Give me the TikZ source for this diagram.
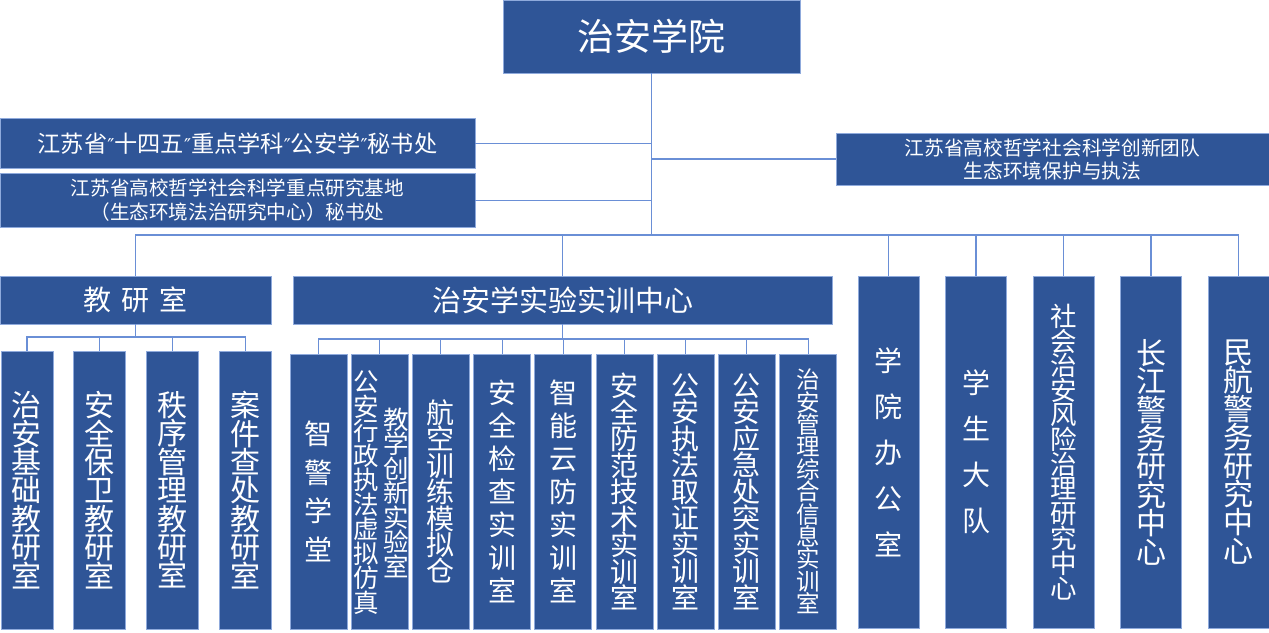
\documentclass[tikz,border=0pt]{standalone}
\usepackage{fontspec}
\setmainfont{Noto Sans CJK SC}
\newfontfamily\primefont{DejaVu Sans}
\usetikzlibrary{calc}

\definecolor{boxblue}{HTML}{2F5597}
\definecolor{edgeblue}{HTML}{8FAADC}
\definecolor{lineblue}{HTML}{6A8FD6}

\tikzset{
  unit/.style={draw=edgeblue, line width=0.8pt, fill=boxblue, text=white,
    inner sep=0pt, align=center},
  link/.style={draw=lineblue, line width=1.1pt},
  fsize/.style n args={2}{font={\fontsize{#1pt}{#2pt}\selectfont}},
}
\newcommand{\qmark}{{\primefont\fontsize{19pt}{19pt}\selectfont ″}}

\begin{document}
\begin{tikzpicture}[x=1pt,y=-1pt]
            \useasboundingbox (0,0) rectangle (1269,632);

            % top and side offices
            \node[unit, minimum width=297, minimum height=73, fsize={37}{40}] (college) at (651.5,36.5) {治安学院};
            \node[unit, minimum width=475, minimum height=50, fsize={23.2}{26}] (keysub) at (237.5,143.5)
              {江苏省\qmark 十四五\qmark 重点学科\qmark 公安学\qmark 秘书处};
            \node[unit, minimum width=475, minimum height=54, fsize={19.6}{24}] (keybase) at (237.5,200.5)
              {江苏省高校哲学社会科学重点研究基地\\（生态环境法治研究中心）秘书处};
            \node[unit, minimum width=433, minimum height=52, fsize={19.7}{23}] (team) at (1052.5,159)
              {江苏省高校哲学社会科学创新团队\\生态环境保护与执法};

            \coordinate (trunk) at (651.5,235);
            \draw[link] (college) -- (trunk);
            \draw[link] (keysub.east) -- (keysub.east -| trunk);
            \draw[link] (keybase.east) -- (keybase.east -| trunk);
            \draw[link] (team.west) -- (team.west -| trunk);

            % second level
            \node[unit, minimum width=271, minimum height=48, fsize={28}{30}] (teach) at (135.5,300)
              {教\hspace{10pt}研\hspace{10pt}室};
            \node[unit, minimum width=539, minimum height=48, fsize={29}{30}] (lab) at (562.5,300)
              {治安学实验实训中心};

            \node[unit, minimum width=61, minimum height=352, fsize={28}{46}] (office) at (888.5,452) {学\\院\\办\\公\\室};
            \node[unit, minimum width=61, minimum height=352, fsize={28}{46}] (students) at (976,452) {学\\生\\大\\队};
            \node[unit, minimum width=61, minimum height=352, fsize={26.5}{24.6}] (risk) at (1063.5,452)
              {社\\会\\治\\安\\风\\险\\治\\理\\研\\究\\中\\心};
            \node[unit, minimum width=61, minimum height=352, fsize={30}{28.4}] (yangtze) at (1151,452)
              {长\\江\\警\\务\\研\\究\\中\\心};
            \node[unit, minimum width=61, minimum height=352, fsize={30}{28.4}] (aviation) at (1238.5,452)
              {民\\航\\警\\务\\研\\究\\中\\心};

            \foreach \n in {teach,lab,office,students,risk,yangtze,aviation}
              \draw[link] (trunk) -| (\n.north);

            % teaching groups
            \node[unit, minimum width=52, minimum height=278, fsize={30}{28.4}] (tg1) at (27,490) {治\\安\\基\\础\\教\\研\\室};
            \node[unit, minimum width=52, minimum height=278, fsize={30}{28.4}] (tg2) at (99.5,490) {安\\全\\保\\卫\\教\\研\\室};
            \node[unit, minimum width=52, minimum height=278, fsize={30}{28.4}] (tg3) at (172.5,490) {秩\\序\\管\\理\\教\\研\\室};
            \node[unit, minimum width=52, minimum height=278, fsize={30}{28.4}] (tg4) at (245.5,490) {案\\件\\查\\处\\教\\研\\室};

            \coordinate (teachbus) at (135.5,337);
            \draw[link] (teach) -- (teachbus);
            \foreach \i in {1,...,4}
              \draw[link] (teachbus) -| (tg\i.north);

            % training rooms
            \node[unit, minimum width=57, minimum height=275, fsize={28}{38.6}] (room1) at (318.5,491.5) {智\\警\\学\\堂};
            \node[unit, minimum width=57, minimum height=275] (room2) at (379.7,491.5) {};
            \node[text=white, inner sep=0pt, align=center, fsize={25.5}{24.5}] (room2a) at (366,492.5)
              {公\\安\\行\\政\\执\\法\\虚\\拟\\仿\\真};
            \node[text=white, inner sep=0pt, align=center, fsize={25.5}{24.5}] (room2b) at (396,492.5)
              {教\\学\\创\\新\\实\\验\\室};
            \node[unit, minimum width=57, minimum height=275, fsize={28}{26.4}] (room3) at (440.9,491.5) {航\\空\\训\\练\\模\\拟\\仓};
            \node[unit, minimum width=57, minimum height=275, fsize={28}{33.1}] (room4) at (502.1,491.5) {安\\全\\检\\查\\实\\训\\室};
            \node[unit, minimum width=57, minimum height=275, fsize={28}{33.1}] (room5) at (563.3,491.5) {智\\能\\云\\防\\实\\训\\室};
            \node[unit, minimum width=57, minimum height=275, fsize={28}{26.5}] (room6) at (624.5,491.5) {安\\全\\防\\范\\技\\术\\实\\训\\室};
            \node[unit, minimum width=57, minimum height=275, fsize={28}{26.5}] (room7) at (685.7,491.5) {公\\安\\执\\法\\取\\证\\实\\训\\室};
            \node[unit, minimum width=57, minimum height=275, fsize={28}{26.5}] (room8) at (746.9,491.5) {公\\安\\应\\急\\处\\突\\实\\训\\室};
            \node[unit, minimum width=57, minimum height=275, fsize={23.5}{22.4}] (room9) at (808.1,491.5)
              {治\\安\\管\\理\\综\\合\\信\\息\\实\\训\\室};

            \coordinate (labbus) at (562.5,339);
            \draw[link] (lab) -- (labbus);
            \foreach \i in {1,...,9}
              \draw[link] (labbus) -| (room\i.north);
        \end{tikzpicture}
\end{document}
